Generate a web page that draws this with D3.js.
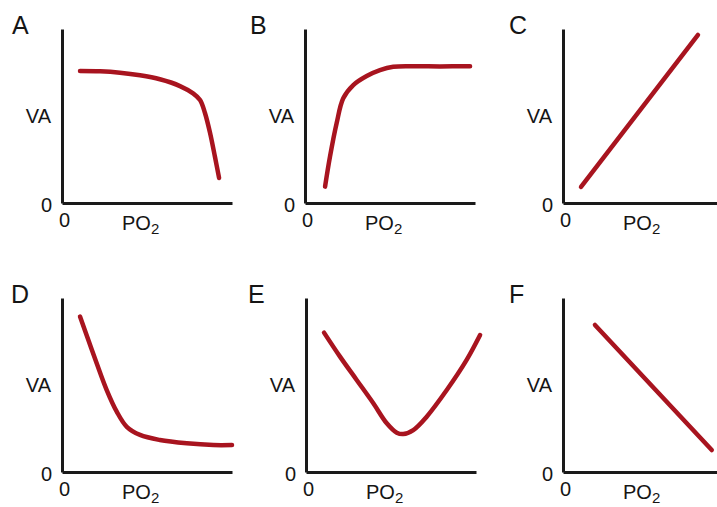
<!DOCTYPE html>
<html>
<head>
<meta charset="utf-8">
<script src="https://cdn.jsdelivr.net/npm/d3@7"></script>
<style>
  body { margin: 0; background: #fff; }
  text { font-family: "Liberation Sans", Arial, sans-serif; fill: #151515; }
</style>
</head>
<body>
<svg id="chart" width="717" height="507"></svg>
<script>
// ---- data (PO2 / VA, 0..100 units) ----
const panelNames = ["A", "B", "C", "D", "E", "F"];

const poA = [10.6, 22.4, 34.1, 45.9, 57.6, 69.4, 77.1, 81.2, 84.1, 87.1, 90, 92.4];
const vaA = [75.9, 75.7, 74.9, 73.4, 71.1, 67.2, 63.0, 59.2, 51.7, 40.2, 26.4, 14.4];

const poB = [11.8, 14.7, 18.6, 22.5, 28.4, 36.3, 44.1, 51.9, 63.7, 79.4, 97.1];
const vaB = [9.4, 26.6, 45.8, 60.2, 67.8, 73, 76.4, 78.3, 78.6, 78.5, 78.6];

const poC = [10.6, 79.4];
const vaC = [9.2, 96.6];

const poD = [10.6, 15.5, 20.4, 26.3, 32.2, 38.1, 45.9, 57.6, 73.4, 89, 100];
const vaD = [89.3, 75.9, 62.5, 47.1, 34.7, 26.0, 21.3, 18.4, 16.5, 15.5, 15.5];

const poE = [10.6, 20, 29.8, 39.6, 47.5, 53.4, 57.2, 63.1, 71, 82.8, 94.5, 102.4];
const vaE = [80.1, 66.3, 52.9, 39.5, 28, 22.6, 21.8, 24.1, 31.8, 47.1, 64.4, 78.7];

const poF = [18.8, 87.5];
const vaF = [84.5, 12.6];

const series = [[poA, vaA], [poB, vaB], [poC, vaC], [poD, vaD], [poE, vaE], [poF, vaF]];

// ---- layout ----
const W = 170, H = 174;
const layout = [
  { ax: 62,  ay: 203, lx: 12 },
  { ax: 305, ay: 203, lx: 250 },
  { ax: 563, ay: 203, lx: 509 },
  { ax: 62,  ay: 472, lx: 11 },
  { ax: 306, ay: 472, lx: 248 },
  { ax: 563, ay: 472, lx: 509 }
];

const svg = d3.select("#chart");

panelNames.forEach((name, i) => {
  const p = layout[i];
  const x = d3.scaleLinear().domain([0, 100]).range([p.ax, p.ax + W]);
  const y = d3.scaleLinear().domain([0, 100]).range([p.ay, p.ay - H]);
  const g = svg.append("g");

  // curve
  const pts = series[i][0].map((v, k) => [v, series[i][1][k]]);
  g.append("path")
    .datum(pts)
    .attr("fill", "none")
    .attr("stroke", "#a8141f")
    .attr("stroke-width", 4.5)
    .attr("stroke-linecap", "round")
    .attr("d", d3.line()
      .x(d => x(d[0]))
      .y(d => y(d[1]))
      .curve(d3.curveCatmullRom.alpha(0.5)));

  // axes
  const xa = g.append("g")
    .attr("transform", `translate(0,${p.ay})`)
    .call(d3.axisBottom(x).tickValues([0]).tickSize(0).tickSizeOuter(0).tickPadding(10));
  const ya = g.append("g")
    .attr("transform", `translate(${p.ax},0)`)
    .call(d3.axisLeft(y).tickValues([0]).tickSize(0).tickSizeOuter(0).tickPadding(10));

  [xa, ya].forEach(a => {
    a.select(".domain").attr("stroke", "#1a1a1a").attr("stroke-width", 3);
    a.selectAll("text")
      .style("font-family", '"Liberation Sans", Arial, sans-serif')
      .style("font-size", "20px")
      .attr("fill", "#151515");
  });
  xa.selectAll("text").attr("dx", 2);
  ya.selectAll("text").attr("dy", "0.42em");

  // labels
  g.append("text")
    .attr("x", p.lx).attr("y", p.ay - 169)
    .style("font-size", "25px")
    .text(name);

  g.append("text")
    .attr("x", p.ax - 11).attr("y", y(50))
    .attr("text-anchor", "end")
    .attr("dy", "0.36em")
    .style("font-size", "20px")
    .text("VA");

  const po = g.append("text")
    .attr("x", p.ax + 60).attr("y", p.ay + 27)
    .style("font-size", "20px");
  po.append("tspan").text("PO");
  po.append("tspan").attr("dy", 4).style("font-size", "15px").text("2");
});
</script>
</body>
</html>
